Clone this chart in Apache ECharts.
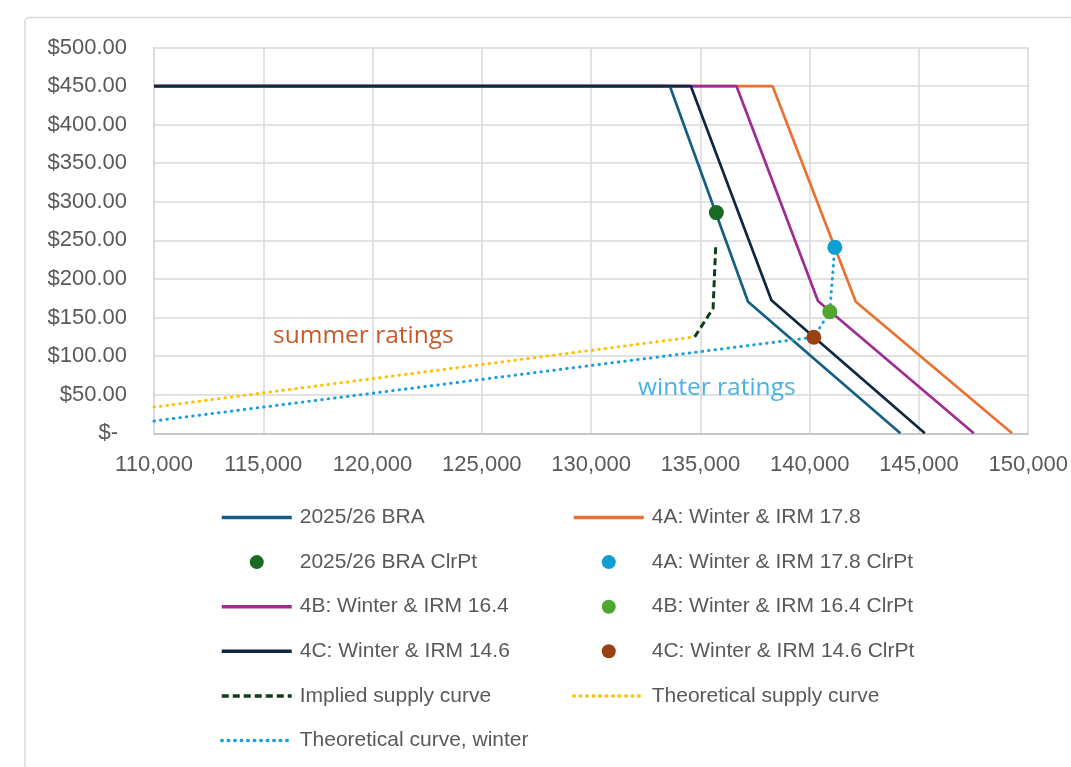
<!DOCTYPE html>
<html>
<head>
<meta charset="utf-8">
<script src="https://cdn.jsdelivr.net/npm/echarts@6/dist/echarts.min.js"></script>
<style>
  html, body { margin: 0; padding: 0; background: #ffffff; }
  #chart { width: 1071px; height: 767px; }
</style>
</head>
<body>
<div id="chart"></div>
<script>
// Demand curves (MW of UCAP vs $/MW-day)
const braX = [110000, 133600, 137180, 144150];
const braY = [450, 450, 170.5, 0];
const s4aX = [110000, 138300, 142110, 149260];
const s4aY = [450, 450, 170.5, 0];
const s4bX = [110000, 136650, 140380, 147510];
const s4bY = [450, 450, 171.5, 0];
const s4cX = [110000, 134560, 138250, 145270];
const s4cY = [450, 450, 172.5, 0];

// Clearing points
const braClr = [135730, 286];
const s4aClr = [141150, 241];
const s4bClr = [140920, 157.5];
const s4cClr = [140190, 124.5];

// Supply curves
const impliedX = [134740, 135580, 135700];
const impliedY = [125, 162, 242];
const theoX = [110000, 134740];
const theoY = [34, 125];
const winterX = [110000, 140190, 140920, 141150];
const winterY = [16, 124.5, 157.5, 241];

// Axis ticks
const xTicks = { min: 110000, max: 150000, step: 5000 };
const yTicks = { min: 0, max: 500, step: 50 };

const names = {
  bra: '2025/26 BRA',
  braC: '2025/26 BRA ClrPt',
  a: '4A: Winter & IRM 17.8',
  aC: '4A: Winter & IRM 17.8 ClrPt',
  b: '4B: Winter & IRM 16.4',
  bC: '4B: Winter & IRM 16.4 ClrPt',
  c: '4C: Winter & IRM 14.6',
  cC: '4C: Winter & IRM 14.6 ClrPt',
  imp: 'Implied supply curve',
  theo: 'Theoretical supply curve',
  win: 'Theoretical curve, winter'
};

const pairs = (xs, ys) => xs.map((x, i) => [x, ys[i]]);

const textColor = '#595959';
const gridColor = '#d9d9d9';
const baseFont = '"Liberation Sans", Arial, sans-serif';

function lineSeries(name, xs, ys, color, extra) {
  return Object.assign({
    name: name,
    type: 'line',
    data: pairs(xs, ys),
    symbol: 'none',
    lineStyle: { color: color, width: 2.7 },
    itemStyle: { color: color },
    z: 2,
    animation: false
  }, extra || {});
}

function pointSeries(name, pt, color) {
  return {
    name: name,
    type: 'scatter',
    data: [pt],
    symbol: 'circle',
    symbolSize: 15,
    itemStyle: { color: color, opacity: 1 },
    z: 5,
    animation: false
  };
}

// legend entries for line series show only the stroke sample
const lineEntry = name => ({ name: name, itemStyle: { opacity: 0 } });

const legendCommon = {
  orient: 'vertical',
  padding: 0,
  itemWidth: 70,
  itemHeight: 14,
  itemGap: 23.6,
  selectedMode: false,
  lineStyle: { width: 3.5 },
  textStyle: {
    color: textColor,
    fontSize: 21,
    lineHeight: 21,
    fontFamily: baseFont,
    padding: [0, 0, 0, 3]
  }
};

const option = {
  backgroundColor: '#ffffff',
  animation: false,
  grid: {
    left: 154,
    top: 47.5,
    right: 42,
    bottom: 333.7,
    containLabel: false
  },
  xAxis: {
    type: 'value',
    min: xTicks.min,
    max: xTicks.max,
    interval: xTicks.step,
    axisLine: { show: true, lineStyle: { color: '#bfbfbf', width: 1.5 } },
    axisTick: { show: false },
    splitLine: { show: true, lineStyle: { color: gridColor, width: 1.5 } },
    axisLabel: {
      color: textColor,
      fontSize: 22,
      fontFamily: baseFont,
      margin: 21,
      formatter: v => v.toLocaleString('en-US')
    }
  },
  yAxis: {
    type: 'value',
    min: yTicks.min,
    max: yTicks.max,
    interval: yTicks.step,
    axisLine: { show: true, lineStyle: { color: gridColor, width: 1.5 } },
    axisTick: { show: false },
    splitLine: { show: true, lineStyle: { color: gridColor, width: 1.5 } },
    axisLabel: {
      color: textColor,
      fontSize: 22,
      fontFamily: baseFont,
      margin: 27,
      formatter: v => v === 0 ? '{z|$-}' : '$' + v.toFixed(2),
      rich: {
        z: { fontSize: 22, fontFamily: baseFont, color: textColor, padding: [0, 9, 0, 0] }
      }
    }
  },
  legend: [
    Object.assign({}, legendCommon, {
      left: 220,
      top: 507,
      data: [lineEntry(names.bra), names.braC, lineEntry(names.b), lineEntry(names.c),
             lineEntry(names.imp), lineEntry(names.win)]
    }),
    Object.assign({}, legendCommon, {
      left: 572,
      top: 507,
      data: [lineEntry(names.a), names.aC, names.bC, names.cC, lineEntry(names.theo)]
    })
  ],
  graphic: [
    {
      type: 'rect',
      silent: true,
      shape: { x: 25, y: 17.5, width: 1100, height: 800, r: 4 },
      style: { fill: 'none', stroke: '#d9d9d9', lineWidth: 1.5 },
      z: -10
    },
    {
      type: 'text',
      silent: true,
      left: 273,
      top: 324,
      style: {
        text: 'summer ratings',
        fill: '#c55a28',
        font: '24.5px "Open Sans", "Noto Sans", sans-serif'
      },
      z: 10
    },
    {
      type: 'text',
      silent: true,
      left: 638,
      top: 376,
      style: {
        text: 'winter ratings',
        fill: '#48b1e5',
        font: '24.5px "Open Sans", "Noto Sans", sans-serif'
      },
      z: 10
    }
  ],
  series: [
    lineSeries(names.bra, braX, braY, '#156082'),
    pointSeries(names.braC, braClr, '#196b24'),
    lineSeries(names.a, s4aX, s4aY, '#e97132'),
    pointSeries(names.aC, s4aClr, '#0f9ed5'),
    lineSeries(names.b, s4bX, s4bY, '#a02b93'),
    pointSeries(names.bC, s4bClr, '#4ea72e'),
    lineSeries(names.c, s4cX, s4cY, '#0e2841'),
    pointSeries(names.cC, s4cClr, '#9a4012'),
    lineSeries(names.imp, impliedX, impliedY, '#0f3d17', {
      lineStyle: { color: '#0f3d17', width: 3, type: [7, 4] }
    }),
    lineSeries(names.theo, theoX, theoY, '#ffc000', {
      lineStyle: { color: '#ffc000', width: 3, type: [0.5, 6], cap: 'round' }
    }),
    lineSeries(names.win, winterX, winterY, '#1aa0dc', {
      lineStyle: { color: '#1aa0dc', width: 3, type: [0.5, 6], cap: 'round' }
    })
  ]
};

const chart = echarts.init(document.getElementById('chart'), null, { renderer: 'canvas' });
chart.setOption(option);
</script>
</body>
</html>
